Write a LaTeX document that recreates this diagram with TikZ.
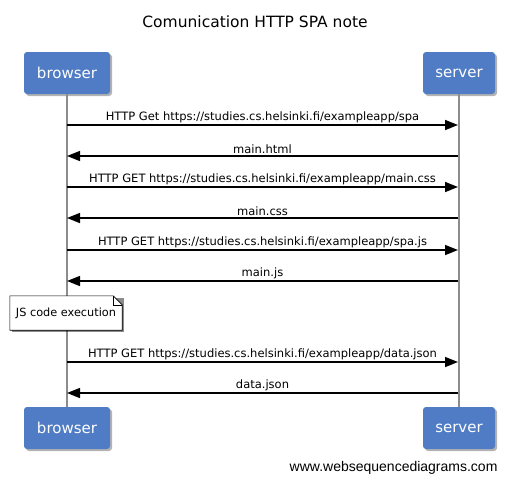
\documentclass[tikz,border=0pt]{standalone}
\usepackage{fontspec}
\setmainfont{DejaVu Sans}
\newfontfamily\sitefont{Liberation Sans}
\usetikzlibrary{arrows.meta,shadows}
\definecolor{boxblue}{RGB}{79,124,197}
\definecolor{lifegray}{RGB}{140,140,140}

\begin{document}
\begin{tikzpicture}[
    x = 1pt, y = -1pt,
    actor/.style={
        fill = boxblue,
        draw = none,
        rounded corners = 3pt,
        text = white,
        minimum height = 42pt,
        font = \fontsize{15}{17}\selectfont,
        drop shadow = {opacity = 0.6, shadow xshift = 2pt, shadow yshift = -2pt}
    },
    life/.style={
        draw = lifegray,
        line width = 1.5pt
    },
    msg/.style={
        line width = 1.5pt,
        -{Triangle[length=13pt,width=10pt]}
    },
    lbl/.style={
        above,
        inner sep = 1.5pt,
        font = \fontsize{11.5}{13}\selectfont
    },
    plain/.style={
        draw = none,
        fill = none
    }
]
\useasboundingbox (0,0) rectangle (510,483);

\node[plain, font = \fontsize{15.5}{18}\selectfont] (title) at (255,22) {Comunication HTTP SPA note};

% participants
\node[actor, minimum width = 86pt] (bt) at (67,73) {browser};
\node[actor, minimum width = 72pt] (st) at (459,73) {server};
\node[actor, minimum width = 86pt] (bb) at (67,428) {browser};
\node[actor, minimum width = 72pt] (sb) at (459,428) {server};

\draw[life] (bt) -- (bb);
\draw[life] (st) -- (sb);

% message rows
\foreach \ai/\y in {1/125,2/156,3/187,4/218,5/250,6/281,7/362,8/393}
{
    \coordinate (b\ai) at (67,\y);
    \coordinate (s\ai) at (458,\y);
}

\draw[msg] (b1) -- node[lbl] {HTTP Get https://studies.cs.helsinki.fi/exampleapp/spa} (s1);
\draw[msg] (s2) -- node[lbl] {main.html} (b2);
\draw[msg] (b3) -- node[lbl] {HTTP GET https://studies.cs.helsinki.fi/exampleapp/main.css} (s3);
\draw[msg] (s4) -- node[lbl] {main.css} (b4);
\draw[msg] (b5) -- node[lbl] {HTTP GET https://studies.cs.helsinki.fi/exampleapp/spa.js} (s5);
\draw[msg] (s6) -- node[lbl] {main.js} (b6);
\draw[msg] (b7) -- node[lbl] {HTTP GET https://studies.cs.helsinki.fi/exampleapp/data.json} (s7);
\draw[msg] (s8) -- node[lbl] {data.json} (b8);

% note
\node[plain, minimum width = 112pt, minimum height = 34pt] (note) at (66,313) {};
\fill[black, opacity = 0.45] ([shift={(2pt,-2pt)}]note.south west) rectangle ([shift={(2pt,-2pt)}]note.north east);
\filldraw[fill = white, draw = black, line width = 0.6pt]
    (note.south west) -- (note.north west) -- ([xshift=-9pt]note.north east)
    -- ([yshift=-9pt]note.north east) -- (note.south east) -- cycle;
\draw[line width = 0.6pt] ([xshift=-9pt]note.north east) -- ([xshift=-9pt,yshift=-9pt]note.north east)
    -- ([yshift=-9pt]note.north east);
\node[plain, font = \fontsize{11.3}{13}\selectfont] (notetext) at (note) {JS code execution};

\node[plain, anchor = east, font = \sitefont\fontsize{14}{16}\selectfont] (site) at (501,468) {www.websequencediagrams.com};

\end{tikzpicture}
\end{document}
